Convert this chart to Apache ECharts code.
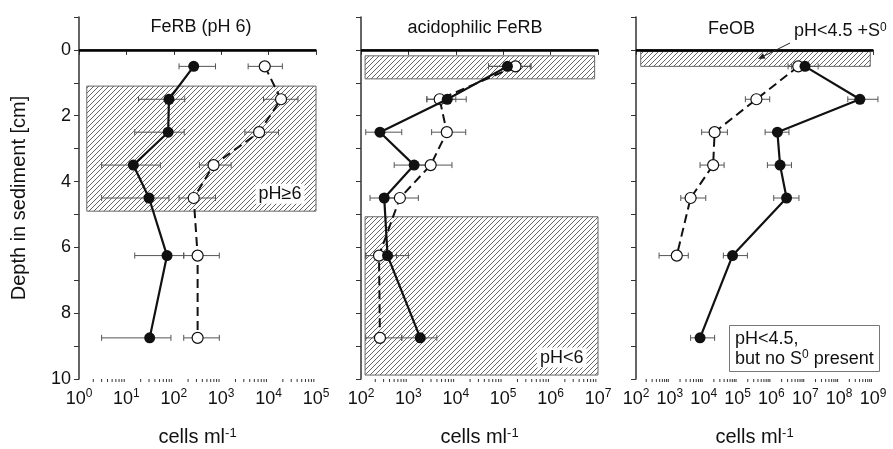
<!DOCTYPE html>
<html>
<head>
<meta charset="utf-8">
<script src="https://cdn.jsdelivr.net/npm/echarts@6/dist/echarts.min.js"></script>
<style>
  html, body { margin: 0; padding: 0; background: #fff; }
  #chart { width: 893px; height: 449px; }
</style>
</head>
<body>
<div id="chart"></div>
<script>
// depths of the sampled layers (cm)
var depths = [0.5, 1.5, 2.5, 3.5, 4.5, 6.25, 8.75];

// FeRB (pH 6)
var ferbFilled = [263, 79, 76, 14, 30, 72, 31];
var ferbFilledLo = [129, 18, 15, 3, 3, 15, 3];
var ferbFilledHi = [759, 170, 166, 52, 79, 162, 87];
var ferbOpen = [8300, 18300, 6300, 690, 263, 318, 318];
var ferbOpenLo = [3700, 7800, 3160, 347, 129, 162, 162];
var ferbOpenHi = [19500, 41700, 16200, 1620, 759, 912, 912];

// acidophilic FeRB
var acidFilled = [123000, 6600, 251, 1320, 309, 363, 1780];
var acidFilledLo = [49000, 2450, 126, 501, 155, 126, 724];
var acidFilledHi = [372000, 16600, 724, 3090, 661, 1000, 3980];
var acidOpen = [182000, 4570, 6460, 2950, 661, 240, 251];
var acidOpenLo = [49000, 2450, 3090, 1320, 324, 126, 126];
var acidOpenHi = [389000, 10000, 16200, 8300, 1620, 562, 724];

// FeOB
var feobFilled = [9.8e6, 4.1e8, 1.5e6, 1.8e6, 2.8e6, 7.1e4, 7.8e3];
var feobFilledLo = [3.9e6, 1.8e8, 6.5e5, 7.6e5, 1.17e6, 3.8e4, 4.1e3];
var feobFilledHi = [2.4e7, 1.4e9, 3.3e6, 3.9e6, 6.5e6, 1.95e5, 2.1e4];
var feobOpen = [6.2e6, 3.6e5, 2.1e4, 1.9e4, 4.1e3, 1.6e3];
var feobOpenLo = [3.1e6, 1.7e5, 8.7e3, 7.8e3, 2.1e3, 480];
var feobOpenHi = [1.26e7, 8.9e5, 5.0e4, 4.0e4, 1.15e4, 3.5e3];

// axis ranges and pH zones [xFrom, xTo, depthFrom, depthTo, label]
var xMins = [1, 100, 100];
var xMaxs = [1e5, 1e7, 1e9];
var yTicks = [0, 2, 4, 6, 8, 10];
var zones = [
  [[1.46, 1e5, 1.1, 4.9, 'pH≥6']],
  [[122, 8.5e6, 0.18, 0.88, ''], [122, 1e7, 5.07, 9.88, 'pH<6']],
  [[138, 8.3e8, 0.05, 0.5, '']]
];
var titles = ['FeRB (pH 6)', 'acidophilic FeRB', 'FeOB'];

var font = "'Liberation Sans', Arial, Helvetica, sans-serif";

// hatch pattern
function hatch() {
  var c = document.createElement('canvas');
  c.width = 5; c.height = 5;
  var g = c.getContext('2d');
  g.fillStyle = '#fff';
  g.fillRect(0, 0, 5, 5);
  g.strokeStyle = '#555';
  g.lineWidth = 0.9;
  g.beginPath();
  g.moveTo(0, 5); g.lineTo(5, 0);
  g.moveTo(-1, 1); g.lineTo(1, -1);
  g.moveTo(4, 6); g.lineTo(6, 4);
  g.stroke();
  return c;
}
var pattern = { image: hatch(), repeat: 'repeat' };

function pts(vals) {
  return vals.map(function (v, i) { return [v, depths[i]]; });
}
function errs(lo, hi) {
  return lo.map(function (v, i) { return [v, hi[i], depths[i]]; });
}

function renderErr(params, api) {
  var y = api.value(2);
  var a = api.coord([api.value(0), y]);
  var b = api.coord([api.value(1), y]);
  var st = { stroke: '#555', lineWidth: 1 };
  return {
    type: 'group',
    children: [
      { type: 'line', shape: { x1: a[0], y1: a[1], x2: b[0], y2: b[1] }, style: st },
      { type: 'line', shape: { x1: a[0], y1: a[1] - 3, x2: a[0], y2: a[1] + 3 }, style: st },
      { type: 'line', shape: { x1: b[0], y1: b[1] - 3, x2: b[0], y2: b[1] + 3 }, style: st }
    ]
  };
}

// log minor ticks (2..9 in each decade)
function minorTicks(k) {
  return function (params, api) {
    var kids = [];
    var n0 = Math.round(Math.log10(xMins[k]));
    var n1 = Math.round(Math.log10(xMaxs[k]));
    for (var n = n0; n < n1; n++) {
      for (var m = 2; m < 10; m++) {
        var p = api.coord([m * Math.pow(10, n), 10]);
        kids.push({ type: 'line', shape: { x1: p[0], y1: p[1], x2: p[0], y2: p[1] + 3 },
          style: { stroke: '#333', lineWidth: 1 } });
      }
    }
    return { type: 'group', children: kids };
  };
}

var lefts = [79, 361, 636];
var grids = lefts.map(function (l) {
  return { left: l, width: 237, top: 17, height: 362, containLabel: false, outerBoundsMode: 'none' };
});

var xAxes = [0, 1, 2].map(function (k) {
  return {
    type: 'log', logBase: 10, gridIndex: k, min: xMins[k], max: xMaxs[k],
    name: 'cells ml{s|-1}', nameLocation: 'middle', nameGap: 48,
    nameTextStyle: { color: '#111', fontSize: 20, fontFamily: font,
      rich: { s: { fontSize: 13, verticalAlign: 'top', lineHeight: 12, color: '#111' } } },
    axisLine: { lineStyle: { color: '#333', width: 1.5 } },
    axisTick: { show: true, length: 5, lineStyle: { color: '#333' } },
    splitLine: { show: false },
    axisLabel: {
      color: '#111', fontSize: 18, fontFamily: font, margin: 9, lineHeight: 22,
      formatter: function (v) { return '10{s|' + Math.round(Math.log10(v)) + '}'; },
      rich: { s: { fontSize: 12, verticalAlign: 'top', lineHeight: 12, color: '#111' } }
    }
  };
});

var yAxes = [0, 1, 2].map(function (k) {
  return {
    type: 'value', gridIndex: k, inverse: true, min: -1, max: 10, interval: 1,
    name: k === 0 ? 'Depth in sediment [cm]' : '', nameLocation: 'middle', nameGap: 50,
    nameTextStyle: { color: '#111', fontSize: 20, fontFamily: font },
    axisLine: { show: true, lineStyle: { color: '#333', width: 1.5 } },
    axisTick: { show: true, length: 5, lineStyle: { color: '#333' } },
    splitLine: { show: false },
    axisLabel: {
      show: k === 0, color: '#111', fontSize: 18, fontFamily: font, margin: 8,
      formatter: function (v) { return yTicks.indexOf(v) >= 0 ? String(v) : ''; }
    }
  };
});

var panels = [
  [ferbFilled, ferbFilledLo, ferbFilledHi, ferbOpen, ferbOpenLo, ferbOpenHi],
  [acidFilled, acidFilledLo, acidFilledHi, acidOpen, acidOpenLo, acidOpenHi],
  [feobFilled, feobFilledLo, feobFilledHi, feobOpen, feobOpenLo, feobOpenHi]
];

var series = [];
panels.forEach(function (p, k) {
  series.push({
    type: 'custom', xAxisIndex: k, yAxisIndex: k, z: 1, silent: true, clip: false,
    renderItem: minorTicks(k), data: [[xMins[k], 10]], encode: { x: 0, y: 1 }
  });
  series.push({
    type: 'custom', xAxisIndex: k, yAxisIndex: k, z: 2, silent: true, clip: false,
    renderItem: renderErr, data: errs(p[4], p[5]), encode: { x: [0, 1], y: 2 }
  });
  series.push({
    type: 'custom', xAxisIndex: k, yAxisIndex: k, z: 2, silent: true, clip: false,
    renderItem: renderErr, data: errs(p[1], p[2]), encode: { x: [0, 1], y: 2 }
  });
  series.push({
    type: 'line', xAxisIndex: k, yAxisIndex: k, z: 3, data: pts(p[3]),
    symbol: 'circle', symbolSize: 11, silent: true,
    lineStyle: { color: '#111', width: 2, type: [9, 5] },
    itemStyle: { color: '#fff', borderColor: '#111', borderWidth: 1.2 }
  });
  series.push({
    type: 'line', xAxisIndex: k, yAxisIndex: k, z: 4, data: pts(p[0]),
    symbol: 'circle', symbolSize: 11, silent: true,
    lineStyle: { color: '#111', width: 2.2 },
    itemStyle: { color: '#111' },
    markArea: {
      silent: true,
      itemStyle: { color: pattern, borderColor: '#666', borderWidth: 1 },
      label: {
        show: true, position: 'insideBottomRight', distance: 0,
        offset: [-12, -8], color: '#111', fontSize: 18, fontFamily: font,
        backgroundColor: '#fff', padding: [1, 3]
      },
      data: zones[k].map(function (zn) {
        return [
          { xAxis: zn[0], yAxis: zn[2], name: zn[4],
            label: { show: zn[4] !== '' } },
          { xAxis: zn[1], yAxis: zn[3] }
        ];
      })
    },
    markLine: {
      silent: true, symbol: ['none', 'none'], label: { show: false },
      lineStyle: { color: '#000', width: 2.5, type: 'solid' },
      data: [{ yAxis: 0 }]
    }
  });
});

var chart = echarts.init(document.getElementById('chart'), null, { renderer: 'canvas' });
chart.setOption({
  backgroundColor: '#fff',
  animation: false,
  textStyle: { fontFamily: font },
  title: [
    { text: titles[0], left: 196, top: 13, textAlign: 'center',
      textStyle: { fontSize: 18, fontWeight: 'normal', color: '#111', fontFamily: font } },
    { text: titles[1], left: 470, top: 14, textAlign: 'center',
      textStyle: { fontSize: 18, fontWeight: 'normal', color: '#111', fontFamily: font } },
    { text: titles[2], left: 703, top: 15,
      textStyle: { fontSize: 18, fontWeight: 'normal', color: '#111', fontFamily: font } },
    { text: 'pH<4.5 +S{s|0}', left: 794, top: 22, padding: 0,
      textStyle: { fontSize: 18, fontWeight: 'normal', color: '#111', fontFamily: font,
        rich: { s: { fontSize: 12, verticalAlign: 'top', lineHeight: 12, color: '#111' } } } },
    { text: 'pH<4.5,\nbut no S{s|0} present', left: 729, top: 325,
      padding: [4, 6, 3, 6], backgroundColor: '#fff', borderColor: '#777', borderWidth: 1,
      textStyle: { fontSize: 18, fontWeight: 'normal', color: '#111', fontFamily: font, lineHeight: 20,
        rich: { s: { fontSize: 12, verticalAlign: 'top', lineHeight: 12, color: '#111' } } } }
  ],
  graphic: [
    { type: 'line', shape: { x1: 790, y1: 43, x2: 760, y2: 58 }, z: 10,
      style: { stroke: '#222', lineWidth: 1 } },
    { type: 'polygon', shape: { points: [[758, 59], [765.6, 58.6], [762.9, 53.2]] }, z: 10,
      style: { fill: '#222' } }
  ],
  grid: grids,
  xAxis: xAxes,
  yAxis: yAxes,
  series: series
});
</script>
</body>
</html>
